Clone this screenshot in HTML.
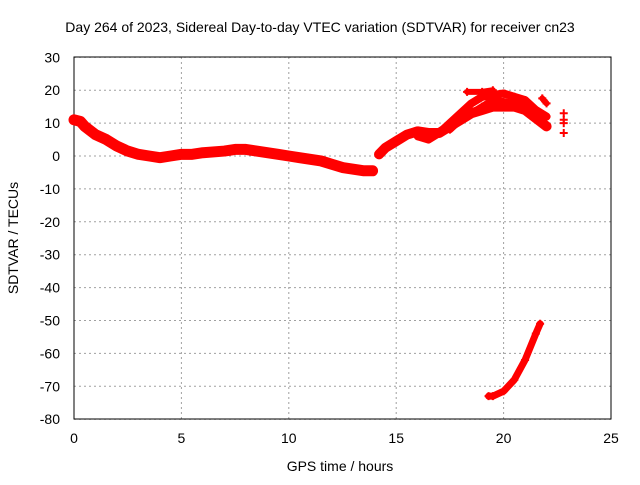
<!DOCTYPE html>
<html><head><meta charset="utf-8"><style>
body{margin:0;background:#fff}
svg text{font-family:"Liberation Sans",sans-serif;font-size:14px;fill:#000}
</style></head><body>
<svg id="c" width="640" height="480"></svg>
<script>
const xTicks=[0,5,10,15,20,25];
const yTicks=[30,20,10,0,-10,-20,-30,-40,-50,-60,-70,-80];
const mainA=[[0,11],[0.3,10.5],[0.5,9],[1,6.5],[1.5,5],[2,3],[2.5,1.5],[3,0.5],[3.5,0],[4,-0.5],[4.5,0],[5,0.5],[5.5,0.5],[6,1],[7,1.5],[7.5,2],[8,2],[8.5,1.5],[9,1],[9.5,0.5],[10,0],[10.5,-0.5],[11,-1],[11.5,-1.5],[12,-2.5],[12.5,-3.5],[13,-4],[13.5,-4.5],[13.9,-4.5]];
const mainB=[[14.2,0.5],[14.5,2.5],[15,4.5],[15.5,6.5],[16,7.5],[16.5,7],[17,7],[17.5,9],[18,11],[18.5,13],[19,14],[19.5,15],[20,15],[20.5,15],[21,14],[21.5,11.5],[22,9]];
const upper=[[16,6],[16.5,5],[17,7],[17.5,10],[18,13],[18.5,16],[19,18],[19.5,18.5],[20,19],[20.5,18],[21,17],[21.5,14],[22,12]];
const middle=[[17.5,8],[18,11],[18.5,13],[19,15],[19.5,17],[20,16.5],[20.5,16],[21,15]];
const topStub=[[18.3,19.5],[19,19.5],[19.5,20]];
const rightStub=[[21.8,17.5],[22,16]];
const lonePts=[[22.8,13],[22.8,11],[22.8,10],[22.8,7]];
const lower=[[19.3,-73],[19.5,-73],[20,-71.5],[20.5,-68],[21,-62],[21.5,-54],[21.7,-51]];
const X=v=>74+v*537/25, Y=v=>156-v*3.29;
const s=document.getElementById('c');const NS='http://www.w3.org/2000/svg';
function el(t,a,p){const e=document.createElementNS(NS,t);for(const k in a)e.setAttribute(k,a[k]);(p||s).appendChild(e);return e;}
xTicks.forEach(v=>{const g=el('line',{x1:X(v),x2:X(v),y1:57,y2:419,stroke:'#a0a0a0','stroke-dasharray':'2,3'});


const t=el('text',{x:X(v),y:443,'text-anchor':'middle'});t.textContent=v;

});
yTicks.forEach(v=>{const g=el('line',{x1:74,x2:611,y1:Y(v),y2:Y(v),stroke:'#a0a0a0','stroke-dasharray':'2,3'});


const t=el('text',{x:60,y:Y(v)+5,'text-anchor':'end'});t.textContent=v;

});
const fr=el('rect',{x:74,y:57,width:537,height:362,fill:'none',stroke:'#000'});


function band(arr,w,name){const p=el('polyline',{points:arr.map(d=>X(d[0])+','+Y(d[1])).join(' '),fill:'none',stroke:'#f00','stroke-width':w,'stroke-linejoin':'round','stroke-linecap':'round'});


arr.forEach(d=>plus(d));}
function plus(d){const x=X(d[0]),y=Y(d[1]);const p=el('path',{d:`M${x-4},${y}h8M${x},${y-4}v8`,stroke:'#f00','stroke-width':2});

}
band(mainA,11,'series-main-early');band(mainB,10,'series-main-late');band(upper,8,'series-upper-branch');
band(middle,7,'series-middle-branch');band(topStub,6,'series-top-stub');band(rightStub,6,'series-right-stub');
band(lower,7,'series-lower-branch');lonePts.forEach(plus);
[[320,32,'Day 264 of 2023, Sidereal Day-to-day VTEC variation (SDTVAR) for receiver cn23','chart-title'],[340,471,'GPS time / hours','x-axis-title']].forEach(a=>{const t=el('text',{x:a[0],y:a[1],'text-anchor':'middle'});t.textContent=a[2];

});
const yt=el('text',{x:0,y:0,'text-anchor':'middle',transform:'translate(18,238) rotate(-90)'});yt.textContent='SDTVAR / TECUs';


</script></body></html>
